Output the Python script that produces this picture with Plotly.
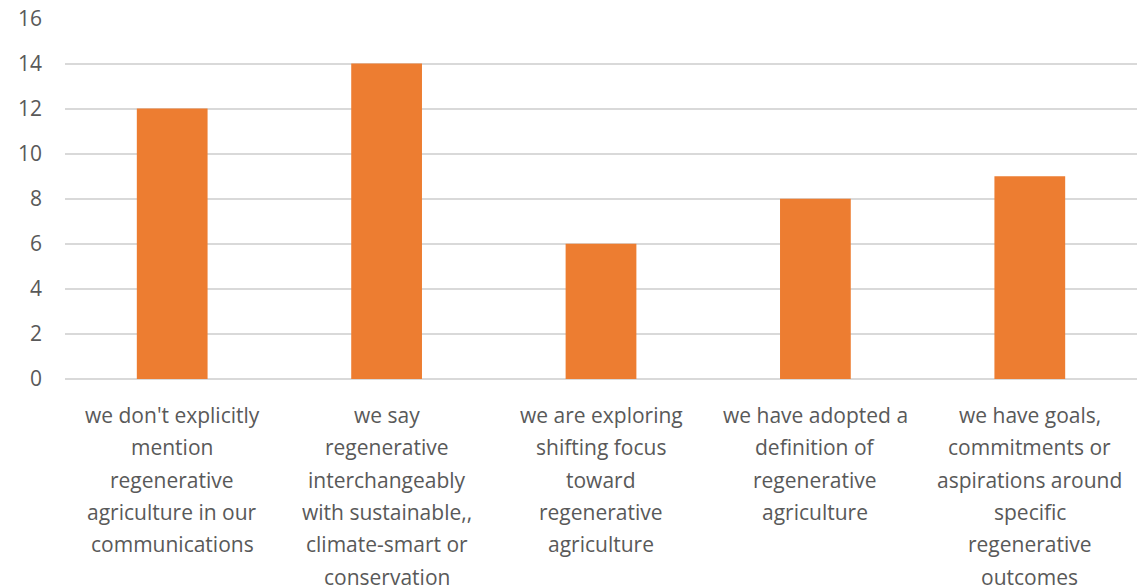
import plotly.graph_objects as go

categories = [
    "we don't explicitly mention regenerative agriculture in our communications",
    "we say regenerative interchangeably with sustainable,, climate-smart or conservation",
    "we are exploring shifting focus toward regenerative agriculture",
    "we have adopted a definition of regenerative agriculture",
    "we have goals, commitments or aspirations around specific regenerative outcomes",
]
label_lines = [
    ["we don't explicitly", "mention", "regenerative", "agriculture in our", "communications"],
    ["we say", "regenerative", "interchangeably", "with sustainable,,", "climate-smart or", "conservation"],
    ["we are exploring", "shifting focus", "toward", "regenerative", "agriculture"],
    ["we have adopted a", "definition of", "regenerative", "agriculture"],
    ["we have goals,", "commitments or", "aspirations around", "specific", "regenerative", "outcomes"],
]
values = [12, 14, 6, 8, 9]
y_ticks = [0, 2, 4, 6, 8, 10, 12, 14, 16]

FONT = "Open Sans"
GRAY = "#595959"

fig = go.Figure(go.Bar(x=categories, y=values, marker=dict(color="#ED7D31", line=dict(width=0))))

annotations = []
for cat, lines in zip(categories, label_lines):
    for i, line in enumerate(lines):
        annotations.append(dict(
            x=cat, xref="x", y=0, yref="paper", yanchor="middle", xanchor="center",
            yshift=-(36 + i * 32.3), text=line, showarrow=False,
            font=dict(family=FONT, size=21, color=GRAY),
        ))

fig.update_layout(
    width=1137, height=586,
    margin=dict(l=65, r=0, t=18, b=207),
    paper_bgcolor="white", plot_bgcolor="white",
    bargap=0.67,
    showlegend=False,
    annotations=annotations,
    xaxis=dict(showticklabels=False, showgrid=False, showline=False, zeroline=False, ticks=""),
    yaxis=dict(range=[0, 16.02], tickvals=y_ticks, showgrid=True, gridcolor="#D9D9D9", gridwidth=2,
               zeroline=True, zerolinecolor="#D9D9D9", zerolinewidth=2, showline=False,
               tickfont=dict(family=FONT, size=21, color=GRAY), ticklabelstandoff=22),
)

fig.write_html(
    "out.html",
    config={"displayModeBar": False},
    post_script="document.body.style.margin='0';document.body.style.overflow='hidden';",
)
